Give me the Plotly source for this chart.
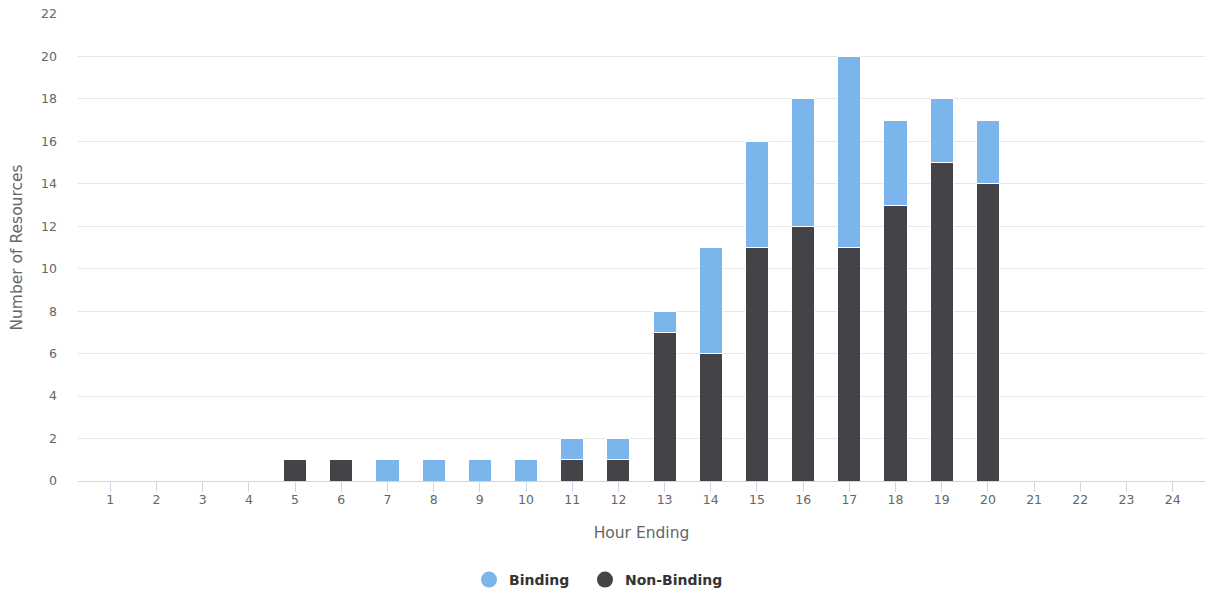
import plotly.graph_objects as go

hours = list(range(1, 25))
non_binding = [0, 0, 0, 0, 1, 1, 0, 0, 0, 0, 1, 1, 7, 6, 11, 12, 11, 13, 15, 14, 0, 0, 0, 0]
binding = [0, 0, 0, 0, 0, 0, 1, 1, 1, 1, 1, 1, 1, 5, 5, 6, 9, 4, 3, 3, 0, 0, 0, 0]

C_BIND = "#7cb5ec"
C_NON = "#434348"
FONT = "DejaVu Sans, Verdana, sans-serif"

fig = go.Figure()
fig.add_bar(x=hours, y=non_binding, name="Non-Binding", marker=dict(color=C_NON, line=dict(color="white", width=1)),
            width=0.5, showlegend=False)
fig.add_bar(x=hours, y=binding, name="Binding", marker=dict(color=C_BIND, line=dict(color="white", width=1)),
            width=0.5, showlegend=False)
# legend entries with circle symbols
fig.add_scatter(x=[None], y=[None], mode="markers", name="Binding", legend="legend",
                marker=dict(symbol="circle", size=16, color=C_BIND))
fig.add_scatter(x=[None], y=[None], mode="markers", name="Non-Binding", legend="legend2",
                marker=dict(symbol="circle", size=16, color=C_NON))

leg_common = dict(orientation="h", xref="container", yref="container",
                  xanchor="left", y=(597 - 580) / 597, yanchor="middle",
                  font=dict(size=14, color="#333333", family=FONT, weight="bold"),
                  itemwidth=30, bgcolor="rgba(0,0,0,0)")

fig.update_layout(
    width=1205, height=597,
    barmode="stack",
    bargap=0.5,
    plot_bgcolor="white", paper_bgcolor="white",
    margin=dict(l=78, r=0, t=14, b=116),
    font=dict(family=FONT, color="#666666", size=12),
    legend=dict(x=(489 - 20) / 1205, **leg_common),
    legend2=dict(x=(605 - 20) / 1205, **leg_common),
    xaxis=dict(
        range=[0.3, 24.7], tickmode="array", tickvals=hours, ticktext=[str(h) for h in hours],
        showgrid=False, showline=True, linecolor="#ccd6eb", linewidth=1,
        ticks="outside", ticklen=10, tickcolor="#ccd6eb",
        tickfont=dict(size=12.5, color="#666666"),
        ticklabelstandoff=-3,
        title=dict(text="Hour Ending", font=dict(size=15.5, color="#666666"), standoff=21),
        zeroline=False, automargin=False,
    ),
    yaxis=dict(
        range=[0, 22], tickmode="array", tickvals=list(range(0, 23, 2)),
        showgrid=True, gridcolor="#e6e6e6", gridwidth=1,
        zeroline=False, showline=False, ticks="",
        tickfont=dict(size=12.5, color="#666666"),
        ticklabelstandoff=20,
        title=dict(text="Number of Resources", font=dict(size=15.5, color="#666666"), standoff=14),
        automargin=False,
    ),
)

fig.write_html("out.html", config={"displayModeBar": False},
               post_script="document.body.style.margin='0';")
